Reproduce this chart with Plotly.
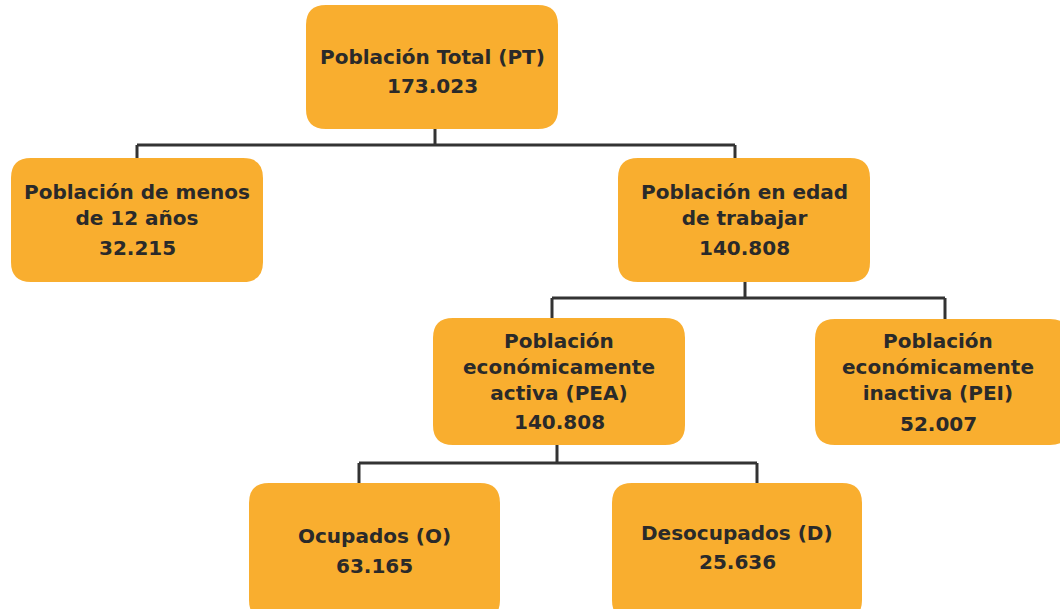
import plotly.graph_objects as go

# node texts and values
labels = [
    "Población Total (PT)",
    "Población de menos<br>de 12 años",
    "Población en edad<br>de trabajar",
    "Población<br>económicamente<br>activa (PEA)",
    "Población<br>económicamente<br>inactiva (PEI)",
    "Ocupados (O)",
    "Desocupados (D)",
]
values = ["173.023", "32.215", "140.808", "140.808", "52.007", "63.165", "25.636"]
parents = [None, 0, 0, 2, 2, 3, 3]

# box geometry in pixels: x0, x1, y0, y1
boxes = [
    (306, 558, 5, 129),
    (11, 263, 158, 282),
    (618, 870, 158, 282),
    (433, 685, 318, 445),
    (815, 1070, 319, 445),
    (249, 500, 483, 620),
    (612, 862, 483, 620),
]
# label center y, value center y
text_y = [
    (57, 86),
    (205, 248),
    (205, 248),
    (367, 422),
    (367, 424),
    (536, 566),
    (533, 562),
]
# connector: x where line leaves the parent, y of the bus, x where it enters each child
drop_x = {0: 435, 2: 745, 3: 557}
bus_y = {0: 145, 2: 298, 3: 463}
child_x = [None, 137, 735, 552, 945, 359, 757]

ORANGE = "#F9AE2F"
LINE = "#333333"
TEXT = "#2a2a2a"
R = 20


def rounded(x0, x1, y0, y1, r=R):
    return (f"M{x0+r},{y0} L{x1-r},{y0} Q{x1},{y0} {x1},{y0+r} "
            f"L{x1},{y1-r} Q{x1},{y1} {x1-r},{y1} L{x0+r},{y1} "
            f"Q{x0},{y1} {x0},{y1-r} L{x0},{y0+r} Q{x0},{y0} {x0+r},{y0} Z")


fig = go.Figure()

# connectors
for p in drop_x:
    kids = [i for i, q in enumerate(parents) if q == p]
    xs = [child_x[k] for k in kids]
    fig.add_trace(go.Scatter(x=[drop_x[p], drop_x[p]], y=[boxes[p][3], bus_y[p]],
                             mode="lines", line=dict(color=LINE, width=3), hoverinfo="skip"))
    fig.add_trace(go.Scatter(x=[min(xs), max(xs)], y=[bus_y[p], bus_y[p]],
                             mode="lines", line=dict(color=LINE, width=3), hoverinfo="skip"))
    for k in kids:
        fig.add_trace(go.Scatter(x=[child_x[k], child_x[k]], y=[bus_y[p], boxes[k][2]],
                                 mode="lines", line=dict(color=LINE, width=3), hoverinfo="skip"))

shapes = []
annotations = []
font = dict(family="DejaVu Sans", size=20, color=TEXT, weight="bold")
for i, (x0, x1, y0, y1) in enumerate(boxes):
    shapes.append(dict(type="path", path=rounded(x0, x1, y0, y1), fillcolor=ORANGE,
                       line=dict(width=0), layer="above"))
    cx = (x0 + x1) / 2 if i != 4 else 938
    ly, vy = text_y[i]
    annotations.append(dict(x=cx, y=ly, text=labels[i], showarrow=False, font=font))
    annotations.append(dict(x=cx, y=vy, text=values[i], showarrow=False, font=font))

fig.update_layout(
    width=1060, height=609,
    margin=dict(l=0, r=0, t=0, b=0),
    paper_bgcolor="white", plot_bgcolor="white",
    showlegend=False,
    shapes=shapes, annotations=annotations,
    xaxis=dict(range=[0, 1060], visible=False, fixedrange=True),
    yaxis=dict(range=[609, 0], visible=False, fixedrange=True),
)

fig.write_html("out.html", config={"displayModeBar": False},
               post_script="document.body.style.margin='0';")
